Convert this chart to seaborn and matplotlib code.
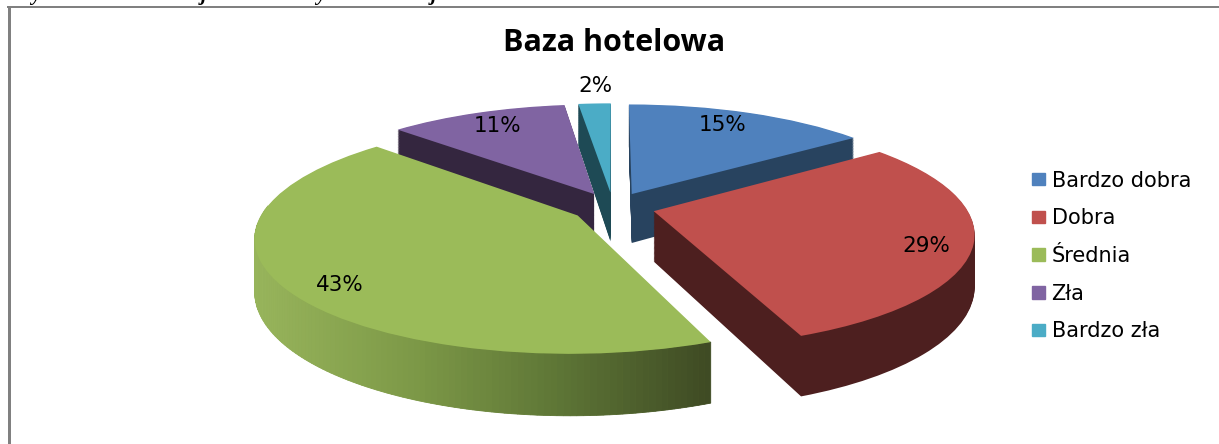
"""
Wykres kolowy 3D "Baza hotelowa" (Excel 2007) : pie seaborn/matplotlib avec projection en perspective.
"""

import numpy as np
import matplotlib
matplotlib.use("Agg")
import matplotlib.pyplot as plt
import seaborn as sns
from matplotlib.colors import LinearSegmentedColormap
from matplotlib.patches import Patch
from matplotlib.transforms import Transform

# Donnees
categories = ["Bardzo dobra", "Dobra", "Średnia", "Zła", "Bardzo zła"]
values = [15, 29, 43, 11, 2]

top_colors = ["#4F81BD", "#C0504D", "#9BBB59", "#8064A2", "#4BACC6"]
wall_colors = ["#28435F", "#4D1F1F", "#8CA950", "#34263F", "#1E4A55"]
draw_order = [2, 4, 3, 1, 0]  # ordre d'empilement par tranche
label_xy = [(723, 125), (926, 246), (340, 285), (498, 126), (595, 86)]

# Parametres de la projection (en pixels)
CX, CY = 613, 207
SCALE_X, SCALE_Y = 312, 110
PERSP = 0.18
DEPTH = 50
EXPLODE = 0.135
LEVELS = 60


def project(x, y, z=0.0):
    d = 1 + PERSP * y
    return CX + SCALE_X * x / d, CY - SCALE_Y * y / d + DEPTH * z / d


class Projection(Transform):
    input_dims = 2
    output_dims = 2
    is_affine = False

    def __init__(self, z=0.0):
        super().__init__()
        self.z = z

    def transform_non_affine(self, values):
        pts = np.asarray(values, dtype=float)
        px, py = project(pts[:, 0], pts[:, 1], self.z)
        return np.column_stack([px, py])


def generer_pie():
    sns.set_theme(style="white")
    fig = plt.figure(figsize=(12.19, 4.44), dpi=100)
    ax = fig.add_axes([0, 0, 1, 1])

    palette = sns.color_palette(top_colors)
    explode = [EXPLODE] * len(values)

    # Murs : piles de parts de plus en plus hautes, puis la face du dessus
    for lvl in range(LEVELS + 1):
        z = 1 - lvl / LEVELS
        colors = palette if lvl == LEVELS else wall_colors
        wedges, _ = ax.pie(values, colors=colors, explode=explode, startangle=90,
                           counterclock=False, frame=True)
        for i, w in enumerate(wedges):
            w.set_transform(Projection(z) + ax.transData)
            w.set_edgecolor("none")
            w.set_zorder(10 * draw_order[i] + lvl / LEVELS * (1 if lvl < LEVELS else 3))

    total = sum(values)
    bounds = np.cumsum([0] + values) / total * 2 * np.pi

    # Degrade horizontal sur le mur exterieur de la part verte
    idx = categories.index("Średnia")
    mid = (bounds[idx] + bounds[idx + 1]) / 2
    ox, oy = EXPLODE * np.sin(mid), EXPLODE * np.cos(mid)
    cmap = LinearSegmentedColormap.from_list("vert", ["#97B45B", "#7E9A48", "#5E7636", "#3F4B24"])
    thetas = np.linspace(bounds[idx], np.deg2rad(275), 120)
    for a, b in zip(thetas[:-1], thetas[1:]):
        xa, ya = ox + np.sin(a), oy + np.cos(a)
        xb, yb = ox + np.sin(b), oy + np.cos(b)
        x0, y0 = project(xa, ya)
        x1, y1 = project(xb, yb)
        x2, y2 = project(xb, yb, 1.0)
        x3, y3 = project(xa, ya, 1.0)
        t = np.clip((x0 - 260) / 450, 0, 1)
        ax.fill([x0, x1, x2, x3], [y0, y1, y2, y3], color=cmap(t), lw=0.6,
                zorder=10 * draw_order[idx] + 1.5)

    # Pourcentages
    for v, (px, py) in zip(values, label_xy):
        ax.text(px, py, f"{v}%", ha="center", va="center", fontsize=15.5,
                color="black", zorder=100)

    ax.set_aspect("auto")
    ax.set_xlim(0, 1219)
    ax.set_ylim(444, 0)
    ax.set_axis_off()

    ax.text(614, 43, "Baza hotelowa", ha="center", va="center", fontsize=22,
            fontweight="bold", family="Open Sans", color="black")

    # Legende
    handles = [Patch(color=c) for c in palette]
    ax.legend(handles, categories, loc="center left", bbox_to_anchor=(1013 / 1219, 1 - 256 / 444),
              frameon=False, fontsize=15, labelspacing=0.85, handlelength=0.65,
              handleheight=0.55, handletextpad=0.3, labelcolor="black")

    # Cadre du graphique
    ax.plot([8.5, 8.5], [444, 6], color="#808080", lw=2.16, zorder=200, solid_capstyle="butt")
    ax.plot([7, 1219], [7, 7], color="#808080", lw=1.44, zorder=200, solid_capstyle="butt")

    # Descendantes de la ligne de texte coupee au-dessus du graphique
    for x, ch in zip([36, 204, 321, 434], "yjyj"):
        ax.text(x, 0, ch, ha="center", va="baseline", fontsize=15, fontweight="bold",
                fontstyle="italic", family="Liberation Serif", color="black")

    fig.savefig("out.png", dpi=100, facecolor="white")


if __name__ == "__main__":
    generer_pie()
